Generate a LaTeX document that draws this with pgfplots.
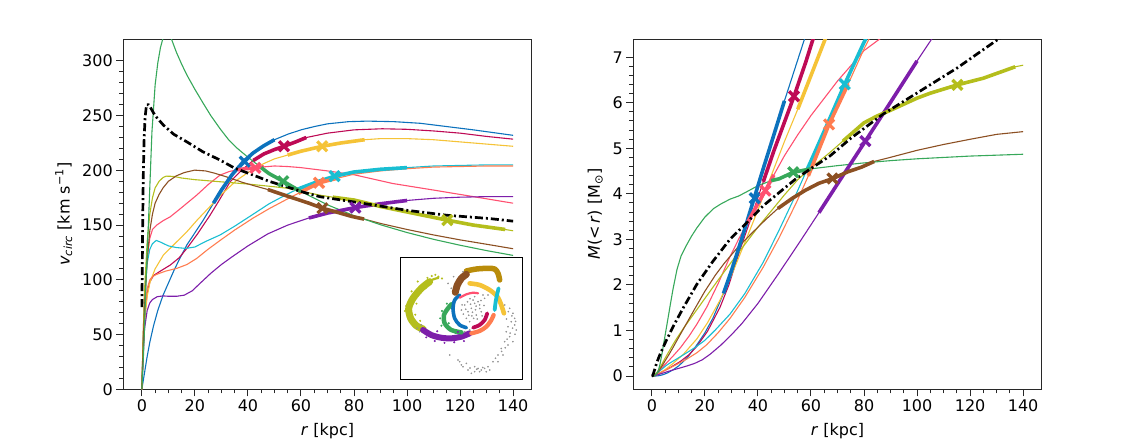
\documentclass[border=0pt]{standalone}
\usepackage{pgfplots}
\usepackage{pgfplotstable}
\pgfplotsset{compat=1.18}
\usepackage{fontspec}
\setmainfont{DejaVu Sans}

\definecolor{cBlue}{RGB}{12,114,189}
\definecolor{cCrim}{RGB}{190,10,85}
\definecolor{cPink}{RGB}{255,80,112}
\definecolor{cYell}{RGB}{245,195,55}
\definecolor{cCyan}{RGB}{25,190,210}
\definecolor{cCoral}{RGB}{255,125,80}
\definecolor{cPurp}{RGB}{125,30,170}
\definecolor{cOlive}{RGB}{180,190,28}
\definecolor{cBrown}{RGB}{140,80,35}
\definecolor{cGreen}{RGB}{55,168,90}
\definecolor{cGold}{RGB}{185,140,10}
\definecolor{spine}{RGB}{40,40,40}

\pgfplotstableread{
r v M
0 0 0
1 15 0.000523
2 30 0.00419
3 43 0.0129
4.4 58 0.0344
6 72 0.0723
8 86 0.1376
10 97 0.2188
12 108 0.3254
14 118 0.4533
17 132 0.6887
20 143 0.951
23 154 1.268
27 170 1.814
30 182 2.310
34 196 3.037
38.3 208 3.853
42 216 4.556
46 222.5 5.295
50 228 6.043
55 233 6.942
60 237 7.836
65 240 nan
70 242.5 nan
78 244.5 nan
85 245 nan
95 244.5 nan
105 243 nan
115 240 nan
125 237 nan
140 232 nan
}\tBlue

\pgfplotstableread{
r v M
0 0 0
0.5 40 0.00186
1 65 0.00982
2 88 0.0360
3 98 0.0670
4.4 104 0.1107
7 108 0.1898
10.7 113.5 0.3205
14 120 0.4687
17 128.8 0.6557
21 142 0.9845
25.7 159 1.5107
29 172 1.9948
33.3 189.6 2.7833
38 201 3.5695
42 209 4.2657
46 215 4.944
50 219 5.5757
53.6 222 6.142
58 226 6.888
62 230 7.626
70 234 nan
80 237 nan
90.6 238 nan
100 237.5 nan
110 236 nan
120 234 nan
130 231 nan
140 228.5 nan
}\tCrim

\pgfplotstableread{
r v M
0 0 0
0.5 50 0.00291
1 85 0.0168
2 120 0.0670
3 138 0.1328
4 146 0.1982
5.6 150 0.2930
8 154 0.4411
10.7 157.6 0.6179
14 164 0.8755
17 170 1.1423
20.7 177.4 1.5146
25 187 2.0327
29.5 195.7 2.6269
33 199 3.0385
36 200.5 3.3649
39 201.5 3.6817
42.8 202.3 4.0726
46 203.2 4.4161
50 204 4.8381
55 203.5 5.2958
60 202.5 5.7206
70 199.5 6.4777
80 196 7.1457
94.6 188 7.774
110 182 nan
125 176 nan
140 170 nan
}\tPink

\pgfplotstableread{
r v M
0 0 0
0.5 38 0.00168
1 60 0.00837
2 85 0.0336
3.1 98 0.0692
5 110 0.1407
8.1 122.6 0.2831
12 132 0.4861
17 144 0.8196
21 155 1.1731
25.7 167 1.6665
30 178 2.2100
35.8 191 3.0366
40 198 3.6461
45.8 206 4.5190
50 210.5 5.1512
55 214 5.8564
60 217.5 6.5995
68 222 7.7922
75 225 nan
84 228 nan
90 229 nan
100 229 nan
110 228 nan
120 226 nan
130 224 nan
140 222 nan
}\tYell

\pgfplotstableread{
r v M
0 0 0
0.5 45 0.00235
1 80 0.01488
2 115 0.0615
3 128 0.1143
4 133 0.1645
5.4 136 0.2322
7 134.5 0.2944
10 131 0.3990
13 129.5 0.5069
16.6 128.7 0.6393
20 130 0.7859
24 135 1.0170
29.5 141 1.3636
35 149 1.8067
42 160 2.4999
48 169.5 3.2065
54.6 178 4.0222
58 182 4.4670
60 184 4.7231
66 189.5 5.5107
72.7 194.7 6.4078
80 198.5 7.3291
90 201 8.4543
100 202.5 nan
110 204 nan
120 204.5 nan
130 205 nan
140 205 nan
}\tCyan

\pgfplotstableread{
r v M
0 0 0
0.5 40 0.00186
1 70 0.01139
2 92 0.0394
3 100 0.0698
4 103 0.0987
5.6 105 0.1436
9 108 0.2441
13.2 110.5 0.3748
17 114 0.5137
20.7 119.6 0.6885
25 128 0.9524
29.5 136 1.2686
35 145.5 1.7228
42 156.5 2.3918
48 165 3.0384
54.6 173.5 3.8215
59 179 4.3954
66.8 188.6 5.5246
74 193 6.4089
80 196.5 7.1822
90 199.5 8.3285
100 201.5 nan
110 203 nan
120 203.5 nan
130 204 nan
140 204 nan
}\tCoral

\pgfplotstableread{
r v M
0 0 0
0.5 30 0.00105
1 55 0.00703
2 72 0.0241
3 79 0.0435
4 82 0.0625
5.8 84.6 0.0965
8 85.3 0.1353
10 85 0.1680
13.2 85 0.2217
16 86 0.2751
19 90 0.3578
21.9 96.7 0.4762
26 106 0.6792
30 114 0.9065
34 121 1.1574
40 131 1.5960
47.5 142 2.2269
55 150 2.8773
63 156.5 3.5876
70 161 4.2188
80.5 166 5.1577
90 169.5 6.0120
100 172.5 6.9186
110 174.5 7.7879
120 175.5 nan
130 176 nan
140 176 nan
}\tPurp

\pgfplotstableread{
r v M
0 0 0
0.5 50 0.00291
1 90 0.01883
2 135 0.0847
3 160 0.1786
4 175 0.2848
5 184 0.3936
6.5 190 0.5456
8 193.5 0.6965
9.2 194.7 0.8109
12 194.5 1.0555
15 193 1.2991
20 191.5 1.7053
25 190.5 2.1095
30 189.5 2.5048
40 187.5 3.2697
50 185 3.9788
55 183.6 4.3108
60 181 4.5704
67 177.4 4.9025
72 175.5 5.1562
80 172.9 5.5605
85 170 5.7116
90 167 5.8360
100 162 6.1020
105 159.5 6.2108
115.2 154.5 6.3937
125 150 6.5394
137 146 6.7900
140 144.8 6.8251
}\tOlive

\pgfplotstableread{
r v M
0 0 0
0.5 40 0.00186
1 75 0.01308
2 118 0.0647
3 145 0.1467
4 160 0.2381
5 170 0.3360
6.5 178 0.4788
8 184 0.6297
10 190 0.8394
13 195 1.1494
16 198 1.4584
19.9 200.2 1.8545
24 199.5 2.2209
27.3 197.5 2.4759
32 194 2.8003
38 189 3.1561
43 185.5 3.4403
47.5 182.5 3.6785
53 178 3.9045
58 174 4.0829
63 170 4.2333
68 165.5 4.3306
74 161.5 4.4876
79 158 4.5855
83.8 155.5 4.7113
90 151.5 4.8030
100 146 4.9562
110 141 5.0848
120 136.5 5.1986
130 132.5 5.3066
140 128.4 5.3666
}\tBrown

\pgfplotstableread{
r v M
0 0 0
0.5 25 0.000727
1 55 0.00703
1.5 95 0.0315
2 125 0.0727
2.5 153 0.1361
3 185 0.2387
3.8 235 0.4879
5 278 0.8985
6 298 1.2389
7 312 1.5843
8 321 1.9166
9.5 326 2.3475
11 321 2.6354
13 308 2.8674
15 297 3.0764
17 287 3.2557
20 274 3.4912
23.2 261 3.6746
26 250 3.7783
29.5 238 3.8852
32.7 228 3.9524
35.8 220.5 4.0471
40 212 4.1800
45 202.5 4.2904
48 197 4.3312
53.3 190 4.4738
60 180.6 4.55
70 168.5 4.62
80 158.6 4.68
90 150.3 4.73
100 143.2 4.77
110 137 4.80
120 131.6 4.83
130 126.7 4.85
140 122.3 4.87
}\tGreen

\pgfplotstableread{
r v M
0 75 0
0.15 110 0.00422
0.3 150 0.0157
0.5 190 0.0420
0.8 225 0.0942
1.2 248 0.1716
1.75 260 0.2751
2.5 260 0.3929
3.1 258 0.4798
5 250 0.7266
8.1 241.4 1.0975
12 233 1.5147
17 226 2.0189
23 217 2.5182
29.5 209.4 3.0076
35 202 3.3205
42 195.7 3.7400
48 190 4.0289
54.6 185 4.3448
61 180 4.5953
67.2 175.9 4.8344
75 173 5.2191
87 168.5 5.7432
100 163.5 6.2155
115 159 6.7598
131 156 7.4125
140 153.6 7.6798
}\tBlack

\newcommand{\thin}[3]{\addplot[#1, mark=none, line width=1.1pt] table[x=r,y=#3] {#2};}
\newcommand{\thick}[5]{\addplot[#1, mark=none, line width=3.6pt, restrict x to domain=#4:#5] table[x=r,y=#3] {#2};}
\newcommand{\xm}[3]{\addplot[#1, only marks, mark=x, mark size=7pt, mark options={line width=3.3pt, solid}] coordinates {(#2,#3)};}

\pgfplotsset{
  mystyle/.style={
    scale only axis,
    width=408.4pt, height=350.3pt,
    xmin=-7, xmax=147,
    xtick={0,20,...,140},
    minor x tick num=3,
    tick align=outside,
    tick pos=left,
    major tick length=7pt,
    minor tick length=4pt,
    every tick/.style={spine, line width=1pt},
    axis line style={spine, line width=1pt},
    tick label style={font=\fontsize{16}{19}\selectfont, text=black},
    label style={font=\fontsize{16}{19}\selectfont},
    xlabel style={yshift=-5pt},
    ylabel shift=3pt,
    /pgf/number format/assume math mode=true,
    scaled ticks=false,
    clip=true,
  }
}

\begin{document}
\begin{tikzpicture}[x=1pt,y=1pt]
\path[use as bounding box] (0,0) rectangle (1136,440);

% ---------------- left: circular velocity ----------------
\begin{axis}[mystyle,
  at={(123.3pt,50.7pt)}, anchor=south west,
  ymin=0, ymax=320,
  ytick={0,50,...,300},
  minor y tick num=4,
  xlabel={\textit{r} [kpc]},
  ylabel={\textit{v}\textsubscript{\textit{circ}} [km s\textsuperscript{−1}]},
]
\thin{cBlue}{\tBlue}{v}
\thin{cCrim}{\tCrim}{v}
\thin{cPink}{\tPink}{v}
\thin{cYell}{\tYell}{v}
\thin{cCyan}{\tCyan}{v}
\thin{cCoral}{\tCoral}{v}
\thin{cPurp}{\tPurp}{v}
\thin{cOlive}{\tOlive}{v}
\thin{cBrown}{\tBrown}{v}
\thin{cGreen}{\tGreen}{v}
\thick{cBlue}{\tBlue}{v}{27}{50}
\thick{cCrim}{\tCrim}{v}{42}{62}
\thick{cPink}{\tPink}{v}{36}{46}
\thick{cYell}{\tYell}{v}{55}{84}
\thick{cCyan}{\tCyan}{v}{58}{100}
\thick{cCoral}{\tCoral}{v}{59}{74}
\thick{cPurp}{\tPurp}{v}{63}{100}
\thick{cOlive}{\tOlive}{v}{72}{137}
\thick{cBrown}{\tBrown}{v}{47.5}{83.8}
\thick{cGreen}{\tGreen}{v}{45}{60}
\addplot[black, mark=none, line width=2.7pt, dash pattern=on 8pt off 3pt on 2pt off 3pt] table[x=r,y=v] {\tBlack};
\xm{cBlue}{38.8}{208}
\xm{cCrim}{53.6}{222}
\xm{cPink}{42.8}{202.3}
\xm{cYell}{68}{222}
\xm{cGreen}{53.3}{190}
\xm{cCoral}{66.8}{188.6}
\xm{cCyan}{72.7}{194.7}
\xm{cBrown}{68.1}{165.5}
\xm{cPurp}{80.5}{166}
\xm{cOlive}{115.2}{154.5}
\end{axis}

% ---------------- inset ----------------
\begin{axis}[
  at={(400.7pt,60.3pt)}, anchor=south west,
  scale only axis, width=121.6pt, height=122.7pt,
  xmin=0, xmax=100, ymin=0, ymax=100,
  xtick=\empty, ytick=\empty,
  axis line style={black, line width=0.9pt},
  axis background/.style={fill=white},
  clip=true,
]
\addplot[only marks, mark=*, mark size=0.6pt, gray!85] coordinates {
(52.6,60.9) (55.3,55.4) (58.1,58.2) (60.8,62.2) (63.6,63.6) (54.0,50.0) (56.7,47.3)
(62.2,52.7) (66.3,55.4) (64.9,60.9) (59.5,64.9) (49.9,56.8) (69.0,66.3) (67.7,69.0)
(71.8,69.0) (60.8,67.7) (56.7,40.5) (52.6,39.1) (57.5,61.5) (61.5,57.0) (53.5,57.5)
(66.0,64.5) (58.5,52.0) (63.0,49.5) (55.0,63.5) (50.5,61.0) (68.5,60.5) (59.0,55.0)
(62.0,60.0) (56.0,52.5) (65.0,58.0) (60.0,50.0) (57.0,66.0) (51.5,53.5) (67.0,52.0)
(85.5,60.9) (89.6,58.2) (92.3,54.1) (93.7,50.0) (90.9,47.3) (88.2,43.2) (86.8,39.1)
(89.6,35.1) (85.5,31.0) (82.7,25.5) (80.0,20.1) (75.9,14.7) (71.8,10.6) (66.3,7.9)
(60.8,6.5) (55.3,7.9) (51.2,10.6) (48.5,14.7) (47.1,16.0) (63.6,9.2) (69.0,9.2)
(58.1,5.2) (40.3,20.1) (93.7,44.6) (95.1,40.5) (92.3,31.0) (88.2,28.3) (84.1,20.1)
(80.0,14.7) (73.2,7.9) (54.0,13.3) (49.9,12.0) (60.8,10.6) (64.9,6.5) (70.4,6.5)
(91.5,52.0) (94.5,47.5) (87.0,49.5) (90.0,38.0) (86.0,26.0) (78.0,17.5) (62.5,8.5)
(88.5,55.5) (92.0,42.0) (94.0,37.0) (87.5,33.0) (83.0,23.0) (67.5,10.0) (57.0,9.5)
(15.6,39.1) (17.0,44.6) (13.5,42.0) (38.9,78.5) (41.6,74.5) (51.2,88.0) (43.5,84.0)
};
\addplot[cOlive, line width=7pt, line cap=round, line join=round, smooth] coordinates {
(23.8,79.9) (17.0,74.5) (10.1,66.3) (6.6,58.2) (8.2,50.0) (12.9,44.0) (18.4,41.3)};
\addplot[cOlive, line width=2.2pt, line cap=round, smooth] coordinates {
(20.0,78.0) (26.0,81.5) (31.0,83.0)};
\addplot[only marks, mark=*, mark size=0.8pt, cOlive] coordinates {
(25.5,84.5) (28.5,85.5) (31.0,84.0) (34.0,82.5) (22.0,83.0) (4.5,60.0) (5.5,53.0)
(3.5,56.0) (14.0,80.0) (9.0,72.0) (13.0,62.0) (12.0,53.0) (16.0,48.0) (21.0,75.0)};
\addplot[cPurp, line width=6pt, line cap=round, line join=round, smooth] coordinates {
(18.4,40.5) (25.2,36.4) (33.4,34.2) (41.6,33.7) (49.9,35.1) (56.7,37.8)};
\addplot[only marks, mark=*, mark size=0.8pt, cPurp] coordinates {
(21.0,34.5) (28.0,31.5) (36.0,30.0) (44.0,30.5) (52.0,31.5) (30.0,39.5) (47.0,39.0)};
\addplot[cGreen, line width=4.5pt, line cap=round, line join=round, smooth] coordinates {
(49.9,38.6) (41.6,40.5) (36.2,45.9) (35.6,52.7) (38.9,58.2) (41.6,61.4)};
\addplot[only marks, mark=*, mark size=0.8pt, cGreen] coordinates {
(32.5,50.0) (33.5,44.0) (39.5,46.0) (45.0,38.0) (38.0,62.0) (34.0,56.0)};
\addplot[cBlue, line width=3.6pt, line cap=round, line join=round, smooth] coordinates {
(54.0,42.4) (48.5,44.6) (44.4,50.0) (43.0,58.2) (44.4,64.9) (48.5,69.0)};
\addplot[cPink, line width=2.2pt, line cap=round, line join=round, smooth] coordinates {
(48.5,66.8) (54.0,69.6) (59.5,70.9) (63.6,70.4)};
\addplot[cCrim, line width=3.8pt, line cap=round, line join=round, smooth] coordinates {
(59.5,42.4) (64.9,44.6) (69.0,48.6) (71.2,54.1)};
\addplot[cCoral, line width=4.3pt, line cap=round, line join=round, smooth] coordinates {
(58.1,37.8) (64.9,39.7) (70.4,43.2) (74.5,48.6) (76.4,52.7)};
\addplot[cYell, line width=4.6pt, line cap=round, line join=round, smooth] coordinates {
(56.7,78.5) (64.9,77.2) (73.2,73.1) (79.5,67.7) (82.7,60.9) (84.9,54.1)};
\addplot[cCyan, line width=3.8pt, line cap=round, line join=round, smooth] coordinates {
(77.3,56.8) (78.1,63.6) (79.5,70.4) (80.5,74.5)};
\addplot[cGold, line width=5.5pt, line cap=round, line join=round, smooth] coordinates {
(54.0,88.6) (62.2,90.2) (71.8,90.8) (77.3,90.2) (80.0,86.7) (81.4,81.3)};
\addplot[cBrown, line width=7pt, line cap=round, line join=round, smooth] coordinates {
(44.9,71.2) (46.6,77.2) (49.9,82.6) (54.0,85.9)};
\end{axis}

% ---------------- right: enclosed mass ----------------
\begin{axis}[mystyle,
  at={(633.3pt,50.7pt)}, anchor=south west,
  ymin=-0.29, ymax=7.4,
  ytick={0,1,...,7},
  minor y tick num=4,
  xlabel={\textit{r} [kpc]},
  ylabel={\textit{M}(\textless\,\textit{r}) [M\textsubscript{⊙}]},
]
\thin{cBlue}{\tBlue}{M}
\thin{cCrim}{\tCrim}{M}
\thin{cPink}{\tPink}{M}
\thin{cYell}{\tYell}{M}
\thin{cCyan}{\tCyan}{M}
\thin{cCoral}{\tCoral}{M}
\thin{cPurp}{\tPurp}{M}
\thin{cOlive}{\tOlive}{M}
\thin{cBrown}{\tBrown}{M}
\thin{cGreen}{\tGreen}{M}
\thick{cBlue}{\tBlue}{M}{27}{50}
\thick{cCrim}{\tCrim}{M}{42}{62}
\thick{cPink}{\tPink}{M}{36}{46}
\thick{cYell}{\tYell}{M}{55}{84}
\thick{cCyan}{\tCyan}{M}{58}{100}
\thick{cCoral}{\tCoral}{M}{59}{74}
\thick{cPurp}{\tPurp}{M}{63}{100}
\thick{cOlive}{\tOlive}{M}{72}{137}
\thick{cBrown}{\tBrown}{M}{47.5}{83.8}
\thick{cGreen}{\tGreen}{M}{45}{60}
\addplot[black, mark=none, line width=2.7pt, dash pattern=on 8pt off 3pt on 2pt off 3pt] table[x=r,y=M] {\tBlack};
\xm{cBlue}{38.8}{3.903}
\xm{cCrim}{53.6}{6.142}
\xm{cPink}{42.8}{4.073}
\xm{cGreen}{53.3}{4.474}
\xm{cCoral}{66.8}{5.525}
\xm{cCyan}{72.7}{6.408}
\xm{cBrown}{68.1}{4.337}
\xm{cPurp}{80.5}{5.158}
\xm{cOlive}{115.2}{6.394}
\node[anchor=south west, inner sep=0pt, font=\fontsize{13}{15}\selectfont] at (rel axis cs:0,1) [yshift=3pt] {1e11};
\end{axis}
\end{tikzpicture}
\end{document}
